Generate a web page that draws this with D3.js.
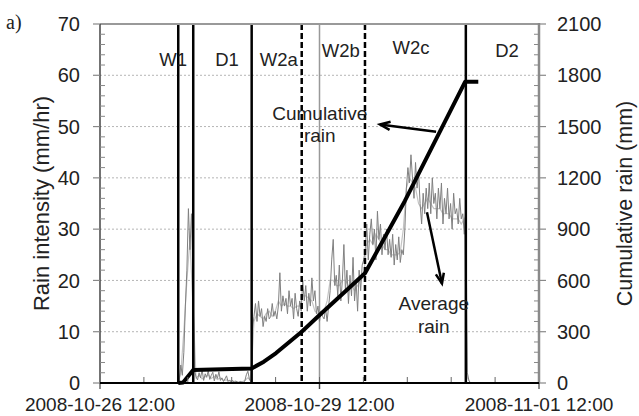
<!DOCTYPE html>
<html>
<head>
<meta charset="utf-8">
<script src="https://cdn.jsdelivr.net/npm/d3@7"></script>
<style>
  html, body { margin: 0; padding: 0; background: #fff; }
  svg { display: block; font-family: "Liberation Sans", Arial, sans-serif; }
</style>
</head>
<body>
<svg id="chart" width="639" height="416"></svg>
<script>
// ---- Data -------------------------------------------------------------
// Rain intensity (mm/hr), half-hourly record starting 2008-10-27 13:30
const rainStart = "2008-10-27 13:30";
const rainStepMinutes = 30;
const rainIntensity = [
  // W1
  0, 0.3, 3.5, 1.5, 6, 15, 22, 34, 26, 33, 21,
  // D1
  2.5, 1.2, 0.6, 2.0, 1.0, 2.6, 0.5, 1.8, 1.1, 2.4, 0.7, 1.5, 2.1, 0.4, 1.7, 0.9,
  2.2, 0.5, 1.0, 0.3, 0.8, 1.4, 0.3, 0.6, 0.2, 0.5, 0.1, 0.4, 0.2, 0.1, 0.3, 0.2,
  0.1, 0.4, 1.6, 2.3, 0.8, 0.2,
  // W2a
  10.5, 13, 15.5, 12, 16, 13, 14.5, 11, 13, 12, 14.5, 12.5, 13, 15.5, 13, 14,
  12.5, 15, 21.5, 14, 17, 15, 16.5, 13.5, 18, 15, 16.5, 12.5, 17.5, 14.5, 13, 16, 14,
  // W2b
  20, 16, 19, 14, 17.5, 15, 20.5, 16, 18, 13.5, 15, 12, 14, 13, 12.5, 14.5, 12, 15,
  18, 24, 28, 19, 21, 17, 23, 16, 20, 27, 18, 22, 15.5, 21, 17, 24.5, 16, 20, 14,
  22, 18, 23, 24,
  // W2c
  26, 31, 24, 29, 32, 27, 30, 24, 33.5, 28, 31, 25, 29, 26, 30, 25, 28, 24.5, 29,
  23, 27, 24, 28.5, 23.5, 26, 25, 30, 38, 42, 39, 44.5, 40, 36, 43, 38, 41,
  35, 31, 37, 33, 38, 34, 39, 33, 40, 35, 37, 32, 38,
  34, 39, 31, 36, 33, 38, 32, 35, 30, 37, 33, 34, 31, 36, 32, 33, 29, 34,
  // D2
  2, 0.5, 0
];

// Hourly rain intensity (mm/hr) from the second gauge, same start time
const rainHourlyStepMinutes = 60;
const rainHourly = [
  0, 2, 10, 20, 28, 15,
  1, 1.5, 0.8, 1.2, 1.6, 0.9, 1.3, 0.7, 1.0, 0.5, 0.6, 0.4, 0.3, 0.3, 0.2, 0.2, 0.5, 1.0, 0.4,
  12, 13.5, 13, 12.5, 13.5, 14, 13, 14, 16, 15, 15.5, 15, 15, 14.5, 15, 15,
  17, 17, 16.5, 16, 14, 13.5, 13.5, 14, 16, 20, 20, 19, 19, 20, 20, 19, 19, 18, 19, 20, 21,
  27, 28, 27, 29, 28, 27, 26, 26, 25, 25, 25, 25.5,
  30, 38, 40, 39, 38, 35, 34, 35, 36, 35,
  34, 34, 34, 33, 33, 33, 32, 32, 32, 31, 32,
  1, 0
];

// Cumulative rain (mm)
const cumTimes = [
  "2008-10-27 13:40", "2008-10-27 15:15", "2008-10-27 18:35", "2008-10-28 13:45",
  "2008-10-28 17:45", "2008-10-28 21:45", "2008-10-29 06:10", "2008-10-29 11:35",
  "2008-10-29 17:40", "2008-10-30 02:55", "2008-10-30 16:00", "2008-10-31 11:45",
  "2008-10-31 16:05"
];
const cumRain = [0, 3, 76, 85, 125, 175, 300, 390, 490, 642, 1065, 1762, 1762];

// Phase boundaries
const boundaryTimes = [
  "2008-10-27 13:40", "2008-10-27 18:35", "2008-10-28 13:45",
  "2008-10-29 06:10", "2008-10-30 02:55", "2008-10-31 12:00"
];
const boundaryDashed = [false, false, false, true, true, false];

// Phase names
const phaseNames = ["W1", "D1", "W2a", "W2b", "W2c", "D2"];

// Axis ticks
const xTickLabels = ["2008-10-26 12:00", "2008-10-29 12:00", "2008-11-01 12:00"];
const yLeftTicks = [0, 10, 20, 30, 40, 50, 60, 70];
const yRightTicks = [0, 300, 600, 900, 1200, 1500, 1800, 2100];

// ---- Layout -----------------------------------------------------------
const parse = d3.utcParse("%Y-%m-%d %H:%M");
const pLeft = 100, pRight = 539, pTop = 24, pBottom = 383;

const x = d3.scaleUtc()
  .domain([parse("2008-10-26 12:00"), parse("2008-11-01 12:00")])
  .range([pLeft, pRight]);
const yL = d3.scaleLinear().domain([0, 70]).range([pBottom, pTop]);
const yR = d3.scaleLinear().domain([0, 2100]).range([pBottom, pTop]);

const svg = d3.select("#chart");
const textColor = "#222";

// Horizontal dotted gridlines
svg.append("g")
  .selectAll("line")
  .data(yLeftTicks.filter(v => v > 0 && v < 70))
  .join("line")
  .attr("x1", pLeft).attr("x2", pRight)
  .attr("y1", d => yL(d)).attr("y2", d => yL(d))
  .attr("stroke", "#b5b5b5").attr("stroke-width", 1)
  .attr("stroke-dasharray", "2,2");

// Vertical gridline at the middle major tick
svg.append("line")
  .attr("x1", x(parse(xTickLabels[1]))).attr("x2", x(parse(xTickLabels[1])))
  .attr("y1", pTop).attr("y2", pBottom + 6)
  .attr("stroke", "#999").attr("stroke-width", 1.5);

// Rain intensity series
const start = parse(rainStart);
const hourlyLine = d3.line()
  .x((d, i) => x(d3.utcMinute.offset(start, i * rainHourlyStepMinutes)))
  .y(d => yL(d));
svg.append("path")
  .datum(rainHourly)
  .attr("d", hourlyLine)
  .attr("fill", "none").attr("stroke", "#c4c4c4").attr("stroke-width", 1.2);

const rainLine = d3.line()
  .x((d, i) => x(d3.utcMinute.offset(start, i * rainStepMinutes)))
  .y(d => yL(d));
svg.append("path")
  .datum(rainIntensity)
  .attr("d", rainLine)
  .attr("fill", "none").attr("stroke", "#808080").attr("stroke-width", 1);

// Phase boundary lines
svg.append("g")
  .selectAll("line")
  .data(boundaryTimes)
  .join("line")
  .attr("x1", d => x(parse(d))).attr("x2", d => x(parse(d)))
  .attr("y1", pTop).attr("y2", pBottom)
  .attr("stroke", "#000").attr("stroke-width", 2.5)
  .attr("stroke-dasharray", (d, i) => boundaryDashed[i] ? "6,3" : null);

// Cumulative rain line
const cumLine = d3.line()
  .x((d, i) => x(parse(cumTimes[i])))
  .y(d => yR(d));
svg.append("path")
  .datum(cumRain)
  .attr("d", cumLine)
  .attr("fill", "none").attr("stroke", "#000").attr("stroke-width", 4)
  .attr("stroke-linejoin", "round");

// ---- Axes -------------------------------------------------------------
// Top frame
svg.append("line")
  .attr("x1", pLeft).attr("x2", pRight).attr("y1", pTop).attr("y2", pTop)
  .attr("stroke", "#999").attr("stroke-width", 2);

// Left axis
const gL = svg.append("g");
gL.append("line").attr("x1", pLeft).attr("x2", pLeft).attr("y1", pTop).attr("y2", pBottom)
  .attr("stroke", "#444").attr("stroke-width", 1.5);
gL.selectAll("line.minor").data(d3.range(2, 70, 2).filter(v => v % 10 !== 0))
  .join("line").attr("class", "minor")
  .attr("x1", pLeft).attr("x2", pLeft + 5)
  .attr("y1", d => yL(d)).attr("y2", d => yL(d))
  .attr("stroke", "#888").attr("stroke-width", 1);
gL.selectAll("line.major").data(yLeftTicks)
  .join("line").attr("class", "major")
  .attr("x1", pLeft - 7).attr("x2", pLeft)
  .attr("y1", d => yL(d)).attr("y2", d => yL(d))
  .attr("stroke", "#888").attr("stroke-width", 1.2);
gL.selectAll("text").data(yLeftTicks)
  .join("text")
  .attr("x", pLeft - 20).attr("y", d => yL(d))
  .attr("dy", "0.36em").attr("text-anchor", "end")
  .attr("font-size", 20).attr("fill", textColor)
  .text(d => d);

// Right axis
const gR = svg.append("g");
gR.append("line").attr("x1", pRight).attr("x2", pRight).attr("y1", pTop - 1).attr("y2", pBottom)
  .attr("stroke", "#8a8a8a").attr("stroke-width", 2.5);
gR.selectAll("line.minor").data(d3.range(60, 2100, 60).filter(v => v % 300 !== 0))
  .join("line").attr("class", "minor")
  .attr("x1", pRight - 5).attr("x2", pRight)
  .attr("y1", d => yR(d)).attr("y2", d => yR(d))
  .attr("stroke", "#888").attr("stroke-width", 1);
gR.selectAll("line.major").data(yRightTicks)
  .join("line").attr("class", "major")
  .attr("x1", pRight).attr("x2", pRight + 7)
  .attr("y1", d => yR(d)).attr("y2", d => yR(d))
  .attr("stroke", "#888").attr("stroke-width", 1.2);
gR.selectAll("text").data(yRightTicks)
  .join("text")
  .attr("x", pRight + 18).attr("y", d => yR(d))
  .attr("dy", "0.36em").attr("text-anchor", "start")
  .attr("font-size", 20).attr("fill", textColor)
  .text(d => d);

// Bottom axis
const gB = svg.append("g");
const x0 = parse(xTickLabels[0]);
const minorX = d3.range(1, 10).map(k => d3.utcMinute.offset(x0, k * 864));
gB.selectAll("line.minor").data(minorX)
  .join("line").attr("class", "minor")
  .attr("x1", d => x(d)).attr("x2", d => x(d))
  .attr("y1", pBottom - 6).attr("y2", pBottom)
  .attr("stroke", "#666").attr("stroke-width", 1);
gB.selectAll("line.major").data(xTickLabels)
  .join("line").attr("class", "major")
  .attr("x1", d => x(parse(d))).attr("x2", d => x(parse(d)))
  .attr("y1", pBottom).attr("y2", pBottom + 6)
  .attr("stroke", "#444").attr("stroke-width", 1.2);
gB.append("line").attr("x1", pLeft).attr("x2", pRight).attr("y1", pBottom).attr("y2", pBottom)
  .attr("stroke", "#000").attr("stroke-width", 2);
gB.selectAll("text").data(xTickLabels)
  .join("text")
  .attr("x", d => x(parse(d))).attr("y", 411)
  .attr("text-anchor", "middle")
  .attr("font-size", 19).attr("fill", textColor)
  .text(d => d);

// Axis titles
svg.append("text")
  .attr("transform", `translate(49,${(pTop + pBottom) / 2}) rotate(-90)`)
  .attr("text-anchor", "middle").attr("font-size", 22).attr("fill", textColor)
  .text("Rain intensity (mm/hr)");
svg.append("text")
  .attr("transform", `translate(632,${(pTop + pBottom) / 2}) rotate(-90)`)
  .attr("text-anchor", "middle").attr("font-size", 21.5).attr("fill", textColor)
  .text("Cumulative rain (mm)");

// Panel tag
svg.append("text")
  .attr("x", 6).attr("y", 29)
  .attr("font-family", "'Liberation Serif', 'Times New Roman', serif")
  .attr("font-size", 20).attr("fill", textColor)
  .text("a)");

// ---- Annotations ------------------------------------------------------
const phaseLabelAnchors = [
  { t: "2008-10-27 12:00", v: 61.8 },
  { t: "2008-10-28 05:40", v: 61.8 },
  { t: "2008-10-28 22:40", v: 61.8 },
  { t: "2008-10-29 19:00", v: 63.6 },
  { t: "2008-10-30 18:00", v: 64.2 },
  { t: "2008-11-01 01:30", v: 63.6 }
];
svg.append("g")
  .selectAll("text")
  .data(phaseNames)
  .join("text")
  .attr("x", (d, i) => x(parse(phaseLabelAnchors[i].t)))
  .attr("y", (d, i) => yL(phaseLabelAnchors[i].v))
  .attr("text-anchor", "middle")
  .attr("font-size", 18.5).attr("fill", textColor)
  .text(d => d);

function arrow(t1, v1, t2, v2) {
  const x1 = x(parse(t1)), y1 = yL(v1), x2 = x(parse(t2)), y2 = yL(v2);
  const a = Math.atan2(y2 - y1, x2 - x1), len = 11, spread = 0.38;
  svg.append("line").attr("x1", x1).attr("y1", y1).attr("x2", x2).attr("y2", y2)
    .attr("stroke", "#000").attr("stroke-width", 2.5);
  svg.append("path")
    .attr("d", `M${x2 - len * Math.cos(a - spread)},${y2 - len * Math.sin(a - spread)}` +
               `L${x2},${y2}` +
               `L${x2 - len * Math.cos(a + spread)},${y2 - len * Math.sin(a + spread)}`)
    .attr("fill", "none").attr("stroke", "#000").attr("stroke-width", 2.5)
    .attr("stroke-linejoin", "miter");
}
arrow("2008-10-31 02:15", 49.0, "2008-10-30 07:50", 50.4);
arrow("2008-10-30 23:15", 33.3, "2008-10-31 04:10", 19.4);

function note(lines, t, v) {
  const cx = x(parse(t)), y0 = yL(v);
  const txt = svg.append("text").attr("text-anchor", "middle")
    .attr("font-size", 19).attr("fill", textColor);
  lines.forEach((s, i) => {
    txt.append("tspan").attr("x", cx).attr("y", y0 + i * 22.5).text(s);
  });
}
note(["Cumulative", "rain"], "2008-10-29 12:05", 51.3);
note(["Average", "rain"], "2008-10-31 01:30", 14.2);
</script>
</body>
</html>
